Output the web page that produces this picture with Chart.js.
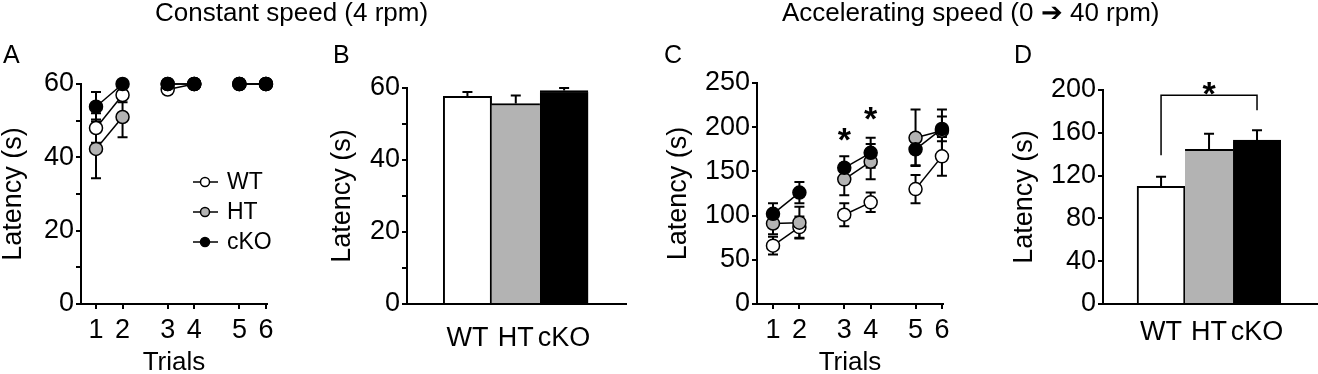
<!DOCTYPE html>
<html lang="en">
<head>
  <meta charset="UTF-8" />
  <title>Rotarod latency</title>
  <script src="https://cdn.jsdelivr.net/npm/chart.js"></script>
  <style>
    body { margin: 0; background: #fff; width: 1318px; height: 374px; position: relative; overflow: hidden;
           font-family: "Liberation Sans", Arial, sans-serif; color: #000; }
    .panel { position: absolute; top: 0; height: 374px; }
    .title { position: absolute; top: -1px; font-size: 26px; line-height: 26px; white-space: nowrap; }
    .letter { position: absolute; top: 42px; font-size: 25px; line-height: 25px; }
  </style>
</head>
<body>
  <div class="panel" style="left:0;width:300px"><canvas id="chartA"></canvas></div>
  <div class="panel" style="left:300px;width:340px"><canvas id="chartB"></canvas></div>
  <div class="panel" style="left:640px;width:360px"><canvas id="chartC"></canvas></div>
  <div class="panel" style="left:1000px;width:318px"><canvas id="chartD"></canvas></div>

  <div class="title" style="left:155px">Constant speed (4 rpm)</div>
  <div class="title" style="left:782px">Accelerating speed (0 ➔ 40 rpm)</div>
  <div class="letter" style="left:3px">A</div>
  <div class="letter" style="left:333px">B</div>
  <div class="letter" style="left:664px">C</div>
  <div class="letter" style="left:1014px">D</div>

  <script>
    const trials = [1, 2, 3, 4, 5, 6];
    const groups = ['WT', 'HT', 'cKO'];

    // A - constant speed, latency per trial (s)
    const constWT = [48, 57, 58.5, 60, 60, 60];
    const constHT = [42.3, 51, 60, 60, 60, 60];
    const constKO = [53.8, 60, 60, 60, 60, 60];
    const constWTErr = [4, 2, 1, 0, 0, 0];
    const constHTErr = [8, 5.5, 0, 0, 0, 0];
    const constKOErr = [4, 0.5, 0, 0, 0, 0];

    // B - constant speed, mean latency
    const constMean = [57.7, 55.7, 59.3];
    const constMeanErr = [1.2, 2.2, 0.7];

    // C - accelerating speed, latency per trial (s)
    const accWT = [66, 87, 101, 115, 130, 167];
    const accHT = [91, 92, 141, 161, 188, 196];
    const accKO = [102, 126, 154, 171, 175, 198];
    const accWTErr = [10, 12, 13, 11, 16, 22];
    const accHTErr = [12, 18, 18, 20, 32, 24];
    const accKOErr = [12, 12, 13, 17, 18, 14];
    const accStarTrials = [3, 4];
    const accStarLevels = [195, 218];

    // D - accelerating speed, mean latency
    const accMean = [110, 144.5, 153.3];
    const accMeanErr = [9, 14.5, 9];
    const bracketLevel = 195;
    const bracketEnds = [139, 181];
    const bracketStar = 204;

    const fills = ['#ffffff', '#b3b3b3', '#000000'];
    const SESSION_GAP = 0.7;   // extra space between 2-trial sessions
    const FONT = '"Liberation Sans", Arial, sans-serif';

    Chart.defaults.font.family = FONT;
    Chart.defaults.color = '#000';

    const sessionOf = i => Math.floor(i / 2);
    const xPos = t => t + sessionOf(t - 1) * SESSION_GAP;

    // error bars under the markers
    const errorBars = {
      id: 'errorBars',
      beforeDatasetsDraw(chart) {
        const ctx = chart.ctx;
        const y = chart.scales.y;
        chart.data.datasets.forEach((ds, i) => {
          if (!ds.errors) return;
          const meta = chart.getDatasetMeta(i);
          ctx.save();
          ctx.strokeStyle = '#000';
          ctx.lineWidth = 2;
          meta.data.forEach((el, j) => {
            const v = ds.data[j].y, e = ds.errors[j];
            if (!e) return;
            const top = y.getPixelForValue(v + e);
            const bot = ds.upOnly ? y.getPixelForValue(v) : y.getPixelForValue(v - e);
            ctx.beginPath();
            ctx.moveTo(el.x, top); ctx.lineTo(el.x, bot);
            ctx.moveTo(el.x - 5, top); ctx.lineTo(el.x + 5, top);
            if (!ds.upOnly) { ctx.moveTo(el.x - 5, bot); ctx.lineTo(el.x + 5, bot); }
            ctx.stroke();
          });
          ctx.restore();
        });
      }
    };

    const legendA = {
      id: 'legendA',
      afterDatasetsDraw(chart) {
        const ctx = chart.ctx;
        ctx.save();
        ctx.font = '23px ' + FONT;
        ctx.textBaseline = 'middle';
        groups.forEach((g, i) => {
          const ly = 182 + i * 30;
          ctx.strokeStyle = '#000';
          ctx.lineWidth = 1.5;
          ctx.beginPath(); ctx.moveTo(193, ly); ctx.lineTo(218, ly); ctx.stroke();
          ctx.beginPath(); ctx.arc(205, ly, 4.5, 0, Math.PI * 2);
          ctx.fillStyle = fills[i]; ctx.fill(); ctx.stroke();
          ctx.fillStyle = '#000';
          ctx.fillText(g, 227, ly + 1);
        });
        ctx.restore();
      }
    };

    const starsC = {
      id: 'starsC',
      afterDatasetsDraw(chart) {
        const ctx = chart.ctx, xs = chart.scales.x, ys = chart.scales.y;
        ctx.save();
        ctx.font = 'bold 34px ' + FONT;
        ctx.textAlign = 'center';
        ctx.fillStyle = '#000';
        accStarTrials.forEach((t, i) => {
          ctx.fillText('*', xs.getPixelForValue(xPos(t)), ys.getPixelForValue(accStarLevels[i]) + 19);
        });
        ctx.restore();
      }
    };

    const bracketD = {
      id: 'bracketD',
      afterDatasetsDraw(chart) {
        const ctx = chart.ctx, xs = chart.scales.x, ys = chart.scales.y;
        const x1 = xs.getPixelForValue(1), x3 = xs.getPixelForValue(3);
        const yl = ys.getPixelForValue(bracketLevel);
        ctx.save();
        ctx.strokeStyle = '#000';
        ctx.lineWidth = 1.5;
        ctx.beginPath();
        ctx.moveTo(x1, ys.getPixelForValue(bracketEnds[0]));
        ctx.lineTo(x1, yl); ctx.lineTo(x3, yl);
        ctx.lineTo(x3, ys.getPixelForValue(bracketEnds[1]));
        ctx.stroke();
        ctx.font = 'bold 34px ' + FONT;
        ctx.textAlign = 'center';
        ctx.fillStyle = '#000';
        ctx.fillText('*', xs.getPixelForValue(2), ys.getPixelForValue(bracketStar) + 19);
        ctx.restore();
      }
    };

    function yAxis(max, step, every, axisWidth, titlePad) {
      return {
        min: 0, max: max,
        afterFit: s => { s.width = axisWidth; },
        ticks: { stepSize: step, autoSkip: false, padding: 2, font: { size: 27 },
                 callback: v => (v % every === 0 ? v : '') },
        grid: { drawOnChartArea: false, drawTicks: true, tickLength: 5, color: '#000', lineWidth: 2 },
        border: { display: true, color: '#000', width: 2 },
        title: { display: true, text: 'Latency (s)', font: { size: 27, lineHeight: 1 },
                 padding: { top: titlePad, bottom: 0 } }
      };
    }

    function trialAxis(min, max) {
      return {
        type: 'linear', min: min, max: max, offset: false,
        afterBuildTicks: s => { s.ticks = trials.map(t => ({ value: xPos(t) })); },
        afterFit: s => { s.height = 70; },
        ticks: { autoSkip: false, maxRotation: 0, padding: 5, font: { size: 27 },
                 callback: (v, i) => trials[i] },
        grid: { drawOnChartArea: false, drawTicks: true, tickLength: 5, color: '#000', lineWidth: 2 },
        border: { display: true, color: '#000', width: 2 },
        title: { display: true, text: 'Trials', font: { size: 26, lineHeight: 0.88 },
                 padding: { top: 0, bottom: 0 } }
      };
    }

    function groupAxis(min, max, labelPad) {
      return {
        type: 'linear', min: min, max: max, offset: false,
        afterBuildTicks: s => { s.ticks = groups.map((g, i) => ({ value: i + 1 })); },
        afterFit: s => { s.height = 70; },
        ticks: { autoSkip: false, maxRotation: 0, padding: labelPad, font: { size: 27 },
                 callback: (v, i) => groups[i] },
        grid: { drawOnChartArea: false, drawTicks: false },
        border: { display: true, color: '#000', width: 2 }
      };
    }

    function trialSeries(label, values, errs, fill, order) {
      return {
        label: label, order: order, errors: errs,
        data: values.map((v, i) => ({ x: xPos(trials[i]), y: v })),
        borderColor: '#000', borderWidth: 1.5,
        pointRadius: 6.5, pointHoverRadius: 6.5,
        pointBackgroundColor: fill, pointBorderColor: '#000', pointBorderWidth: 1.5,
        clip: false,
        segment: {
          borderColor: c => sessionOf(c.p0DataIndex) === sessionOf(c.p1DataIndex) ? '#000' : 'rgba(0,0,0,0)'
        }
      };
    }

    function meanSeries(values, errs) {
      return {
        upOnly: true, errors: errs,
        data: values.map((v, i) => ({ x: i + 1, y: v })),
        backgroundColor: fills,
        borderColor: '#000',
        borderWidth: [
          { top: 2, left: 2, right: 2, bottom: 0 },
          { top: 2, left: 0, right: 0, bottom: 0 },
          { top: 2, left: 0, right: 0, bottom: 0 }
        ],
        barPercentage: 1, categoryPercentage: 1
      };
    }

    const base = {
      responsive: true, maintainAspectRatio: false, animation: false, events: [],
      plugins: { legend: { display: false }, tooltip: { enabled: false } }
    };

    new Chart(document.getElementById('chartA'), {
      type: 'line',
      data: { datasets: [
        trialSeries('WT', constWT, constWTErr, fills[0], 2),
        trialSeries('HT', constHT, constHTErr, fills[1], 1),
        trialSeries('cKO', constKO, constKOErr, fills[2], 0)
      ] },
      options: { ...base,
        layout: { padding: { left: 0, right: 33, top: 84, bottom: 0 } },
        scales: { x: trialAxis(0.435, 7.44), y: yAxis(60, 10, 20, 81, 0) } },
      plugins: [errorBars, legendA]
    });

    new Chart(document.getElementById('chartB'), {
      type: 'bar',
      data: { datasets: [meanSeries(constMean, constMeanErr)] },
      options: { ...base,
        layout: { padding: { left: 0, right: 14, top: 88, bottom: 0 } },
        scales: { x: groupAxis(-0.25, 4.28, 18), y: yAxis(60, 10, 20, 107, 29.5) } },
      plugins: [errorBars]
    });

    new Chart(document.getElementById('chartC'), {
      type: 'line',
      data: { datasets: [
        trialSeries('WT', accWT, accWTErr, fills[0], 2),
        trialSeries('HT', accHT, accHTErr, fills[1], 1),
        trialSeries('cKO', accKO, accKOErr, fills[2], 0)
      ] },
      options: { ...base,
        layout: { padding: { left: 0, right: 57, top: 83, bottom: 0 } },
        scales: { x: trialAxis(0.394, 7.44), y: yAxis(250, 50, 50, 117, 25.5) } },
      plugins: [errorBars, starsC]
    });

    new Chart(document.getElementById('chartD'), {
      type: 'bar',
      data: { datasets: [meanSeries(accMean, accMeanErr)] },
      options: { ...base,
        layout: { padding: { left: 0, right: 1, top: 90, bottom: 0 } },
        scales: { x: groupAxis(-0.21, 4.25, 12), y: yAxis(200, 40, 40, 103, 11.5) } },
      plugins: [errorBars, bracketD]
    });
  </script>
</body>
</html>
